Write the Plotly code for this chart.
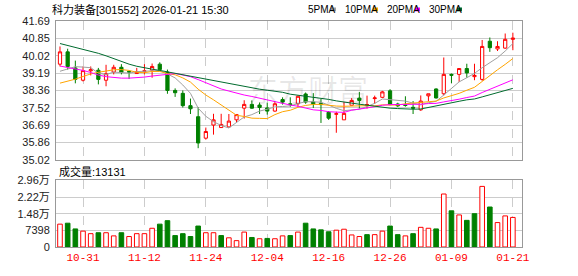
import plotly.graph_objects as go

dates = ["10-28", "10-29", "10-30", "10-31", "11-03", "11-04", "11-05", "11-06", "11-07", "11-10",
         "11-11", "11-12", "11-13", "11-14", "11-17", "11-18", "11-19", "11-20", "11-21", "11-24",
         "11-25", "11-26", "11-27", "11-28", "12-01", "12-02", "12-03", "12-04", "12-05", "12-08",
         "12-09", "12-10", "12-11", "12-12", "12-15", "12-16", "12-17", "12-18", "12-19", "12-22",
         "12-23", "12-24", "12-25", "12-26", "12-29", "12-30", "12-31", "01-05", "01-06", "01-07",
         "01-08", "01-09", "01-12", "01-13", "01-14", "01-15", "01-16", "01-19", "01-20", "01-21"]

opens = [39.62, 40.21, 39.44, 38.85, 39.30, 39.33, 38.85, 39.24, 39.47, 39.27,
         39.17, 39.27, 39.33, 39.62, 39.24, 38.36, 38.22, 37.63, 37.10, 36.07,
         36.70, 36.58, 36.61, 36.95, 37.51, 37.69, 37.66, 37.52, 37.37, 37.92,
         37.72, 37.72, 38.19, 37.80, 37.74, 37.31, 37.22, 36.95, 37.65, 37.99,
         37.65, 37.97, 38.03, 38.34, 37.71, 37.66, 37.55, 37.43, 38.10, 38.43,
         38.20, 39.13, 39.13, 39.41, 39.02, 38.89, 40.72, 40.35, 40.39, 40.81]
highs = [40.47, 40.36, 39.79, 39.51, 39.51, 39.44, 39.59, 39.59, 39.62, 39.30,
         39.44, 39.62, 39.65, 39.71, 39.36, 38.46, 38.36, 37.97, 37.55, 36.58,
         37.24, 37.24, 37.23, 37.23, 37.89, 37.88, 37.78, 37.78, 37.80, 38.03,
         38.03, 38.11, 38.26, 38.23, 37.95, 37.37, 37.34, 37.80, 37.99, 38.29,
         38.11, 38.11, 38.34, 38.42, 37.77, 38.08, 37.85, 38.12, 38.20, 38.46,
         39.94, 39.17, 39.41, 39.64, 39.64, 40.78, 40.90, 40.72, 41.09, 41.13]
lows = [39.51, 39.36, 38.70, 38.79, 39.08, 38.65, 38.56, 39.13, 39.13, 38.91,
        39.15, 39.12, 38.97, 39.28, 38.20, 38.05, 37.54, 37.23, 35.59, 36.00,
        36.24, 36.58, 36.58, 36.83, 37.01, 37.48, 37.23, 37.20, 37.34, 37.68,
        37.57, 37.57, 37.72, 37.52, 36.80, 36.95, 36.33, 36.95, 37.65, 37.49,
        37.49, 37.72, 37.99, 37.65, 37.57, 37.58, 37.23, 37.38, 37.85, 37.97,
        38.12, 38.71, 38.77, 38.97, 38.85, 38.82, 40.21, 40.25, 40.36, 40.29]
closes = [40.21, 39.51, 38.89, 39.31, 39.35, 38.89, 39.16, 39.47, 39.22, 39.24,
          39.25, 39.30, 39.51, 39.36, 38.36, 38.25, 37.63, 37.48, 35.84, 36.39,
          36.95, 36.73, 36.89, 37.20, 37.69, 37.51, 37.54, 37.37, 37.72, 37.80,
          37.68, 38.08, 37.80, 37.72, 37.68, 37.03, 37.24, 37.26, 37.88, 37.88,
          37.68, 38.00, 38.29, 37.68, 37.62, 37.64, 37.51, 37.85, 38.20, 38.00,
          39.13, 39.09, 39.41, 39.20, 39.08, 40.47, 40.41, 40.47, 40.81, 40.87]
volumes = [10145, 10568, 8031, 7045, 5918, 6341, 6341, 4932, 6341, 4650,
           5918, 5918, 8313, 10145, 11695, 5072, 5918, 4650, 9299, 6341,
           6341, 5072, 4086, 2818, 6622, 4227, 3663, 3804, 3663, 4932,
           5072, 6622, 10568, 8031, 7609, 6763, 7468, 7890, 5354, 4650,
           5495, 5495, 7045, 9299, 5495, 4932, 5918, 8736, 8313, 8031,
           23530, 16063, 14231, 11836, 14795, 26912, 17753, 10849, 13808, 13131]

ma5 = [39.28, 39.40, 39.50, 39.48, 39.45, 39.19, 39.12, 39.24, 39.22, 39.19,
       39.26, 39.29, 39.30, 39.32, 39.15, 38.96, 38.62, 38.22, 37.51, 37.12,
       36.86, 36.68, 36.56, 36.83, 37.09, 37.20, 37.37, 37.46, 37.57, 37.59,
       37.62, 37.73, 37.82, 37.82, 37.79, 37.66, 37.50, 37.39, 37.42, 37.46,
       37.59, 37.74, 37.95, 37.91, 37.86, 37.85, 37.75, 37.67, 37.77, 37.84,
       38.14, 38.45, 38.77, 38.97, 39.18, 39.45, 39.71, 39.93, 40.25, 40.61]
ma10 = [38.71, 38.80, 38.90, 39.03, 39.15, 39.23, 39.30, 39.35, 39.36, 39.32,
        39.23, 39.21, 39.27, 39.27, 39.17, 39.11, 38.96, 38.76, 38.42, 38.14,
        37.91, 37.65, 37.39, 37.17, 37.11, 37.03, 37.02, 37.01, 37.20, 37.34,
        37.41, 37.55, 37.64, 37.69, 37.69, 37.64, 37.61, 37.60, 37.62, 37.63,
        37.63, 37.62, 37.67, 37.66, 37.66, 37.72, 37.75, 37.81, 37.84, 37.85,
        38.00, 38.10, 38.22, 38.37, 38.51, 38.79, 39.08, 39.35, 39.61, 39.89]
ma20 = [39.53, 39.47, 39.40, 39.32, 39.22, 39.10, 39.02, 38.97, 38.95, 38.95,
        38.97, 39.00, 39.05, 39.10, 39.15, 39.17, 39.10, 39.02, 38.88, 38.73,
        38.57, 38.43, 38.33, 38.22, 38.14, 38.07, 37.99, 37.88, 37.81, 37.74,
        37.66, 37.60, 37.51, 37.43, 37.40, 37.34, 37.32, 37.31, 37.41, 37.48,
        37.52, 37.58, 37.65, 37.68, 37.68, 37.68, 37.68, 37.70, 37.73, 37.74,
        37.81, 37.86, 37.94, 38.02, 38.09, 38.26, 38.42, 38.58, 38.72, 38.87]
ma30 = [40.61, 40.52, 40.42, 40.33, 40.24, 40.14, 40.02, 39.88, 39.74, 39.62,
        39.52, 39.44, 39.38, 39.32, 39.25, 39.17, 39.10, 39.03, 38.95, 38.88,
        38.81, 38.74, 38.67, 38.60, 38.54, 38.48, 38.42, 38.37, 38.32, 38.27,
        38.18, 38.13, 38.10, 38.05, 37.99, 37.93, 37.86, 37.79, 37.75, 37.70,
        37.65, 37.61, 37.57, 37.51, 37.49, 37.47, 37.46, 37.47, 37.55, 37.61,
        37.68, 37.76, 37.84, 37.91, 37.95, 38.05, 38.15, 38.25, 38.35, 38.46]

tick_dates = ["10-31", "11-12", "11-24", "12-04", "12-16", "12-26", "01-09", "01-21"]
price_ticks = ["35.02", "35.86", "36.69", "37.52", "38.36", "39.19", "40.02", "40.85", "41.69"]
vol_tick_vals = [0, 7398, 14796, 22194, 29592]
vol_tick_text = ["0", "7398", "1.48万", "2.22万", "2.96万"]
title_text = "科力装备[301552] 2026-01-21 15:30"
vol_label = "成交量:13131"
ma_names = ["5PMA", "10PMA", "20PMA", "30PMA"]

RED = "#FF0000"
GREEN = "#008000"
MA_COLORS = ["#A0A0A0", "#FFA500", "#FF00FF", "#006B2E"]
W, H = 578, 276
L, R, T, B = 56, 56, 21, 21
PW, PH = W - L - R, H - T - B


def px_x(px):
    return (px - L) / PW


def px_y(py):
    return (H - B - py) / PH


# volume colour: up vs previous close (first bar: vs open)
vol_colors = []
for i, c in enumerate(closes):
    ref = opens[0] if i == 0 else closes[i - 1]
    vol_colors.append(RED if c >= ref else GREEN)

fig = go.Figure()

fig.add_trace(go.Candlestick(
    x=dates, open=opens, high=highs, low=lows, close=closes,
    increasing=dict(line=dict(color=RED, width=1), fillcolor="#FFFFFF"),
    decreasing=dict(line=dict(color=GREEN, width=1), fillcolor=GREEN),
    whiskerwidth=0, xaxis="x2", yaxis="y", showlegend=False, hoverinfo="skip"))

for vals, col in zip([ma5, ma10, ma20, ma30], MA_COLORS):
    fig.add_trace(go.Scatter(x=dates, y=vals, mode="lines",
                             line=dict(color=col, width=1),
                             xaxis="x2", yaxis="y", showlegend=False, hoverinfo="skip"))

fig.add_trace(go.Bar(
    x=dates, y=volumes, width=0.6,
    marker=dict(color=["#FFFFFF" if c == RED else GREEN for c in vol_colors],
                line=dict(color=vol_colors, width=1)),
    xaxis="x", yaxis="y2", showlegend=False, hoverinfo="skip"))

xrange = [-0.52, len(dates) - 1 + 1.19]
axis_common = dict(showline=True, mirror=True, linecolor="#999999", linewidth=1,
                   zeroline=False, ticks="")

fig.update_layout(
    width=W, height=H,
    margin=dict(l=L, r=R, t=T, b=B, pad=0),
    paper_bgcolor="white", plot_bgcolor="white",
    font=dict(family="Liberation Sans, Noto Sans CJK SC", size=11, color="#222222"),
    bargap=0.4, boxgap=0.4,
    xaxis=dict(domain=[0, 1], anchor="y2", type="category", range=xrange,
               tickmode="array", tickvals=tick_dates, ticktext=tick_dates,
               tickfont=dict(color=RED, size=11, family="Liberation Mono"),
               showgrid=True, gridcolor="#CCCCCC", griddash="dash", gridwidth=1,
               rangeslider=dict(visible=False), **axis_common),
    xaxis2=dict(domain=[0, 1], anchor="y", type="category", range=xrange, matches="x",
                tickmode="array", tickvals=tick_dates, showticklabels=False,
                showgrid=True, gridcolor="#CCCCCC", griddash="dash", gridwidth=1,
                rangeslider=dict(visible=False), **axis_common),
    yaxis=dict(domain=[px_y(165), 1], anchor="x2",
               range=[float(price_ticks[0]), float(price_ticks[-1])],
               tickmode="array", tickvals=[float(t) for t in price_ticks], ticktext=price_ticks,
               showgrid=True, gridcolor="#CCCCCC", gridwidth=1, ticklabelstandoff=3,
               **axis_common),
    yaxis2=dict(domain=[0, px_y(186)], anchor="x",
                range=[vol_tick_vals[0], vol_tick_vals[-1]],
                tickmode="array", tickvals=vol_tick_vals, ticktext=vol_tick_text,
                showgrid=True, gridcolor="#CCCCCC", gridwidth=1, ticklabelstandoff=3,
                **axis_common),
)

annotations = [
    dict(text=title_text, x=px_x(50), y=px_y(9), xref="paper", yref="paper",
         xanchor="left", yanchor="middle", showarrow=False,
         font=dict(size=11, color="#000000")),
    dict(text=vol_label, x=px_x(57), y=px_y(177), xref="paper", yref="paper",
         xanchor="left", yanchor="middle", showarrow=False,
         font=dict(size=11, color="#000000")),
    dict(text="东方财富", x=px_x(308), y=px_y(90), xref="paper", yref="paper",
         xanchor="center", yanchor="middle", showarrow=False,
         font=dict(size=30, color="rgba(0,0,0,0.09)", family="Noto Sans CJK SC")),
]
shapes = []
legend_x = [306, 343, 385, 427]
square_x = [331, 373, 415, 457]
for name, lx, sx, col in zip(ma_names, legend_x, square_x, MA_COLORS):
    annotations.append(dict(text=name, x=px_x(lx), y=px_y(9), xref="paper", yref="paper",
                            xanchor="left", yanchor="middle", showarrow=False,
                            font=dict(size=10, color="#000000",
                                      family="Liberation Sans Narrow, Liberation Sans")))
    shapes.append(dict(type="rect", xref="paper", yref="paper",
                       x0=px_x(sx), x1=px_x(sx + 5), y0=px_y(11), y1=px_y(7),
                       fillcolor=col, line=dict(width=0)))

fig.update_layout(annotations=annotations, shapes=shapes)
fig.write_html("out.html")
